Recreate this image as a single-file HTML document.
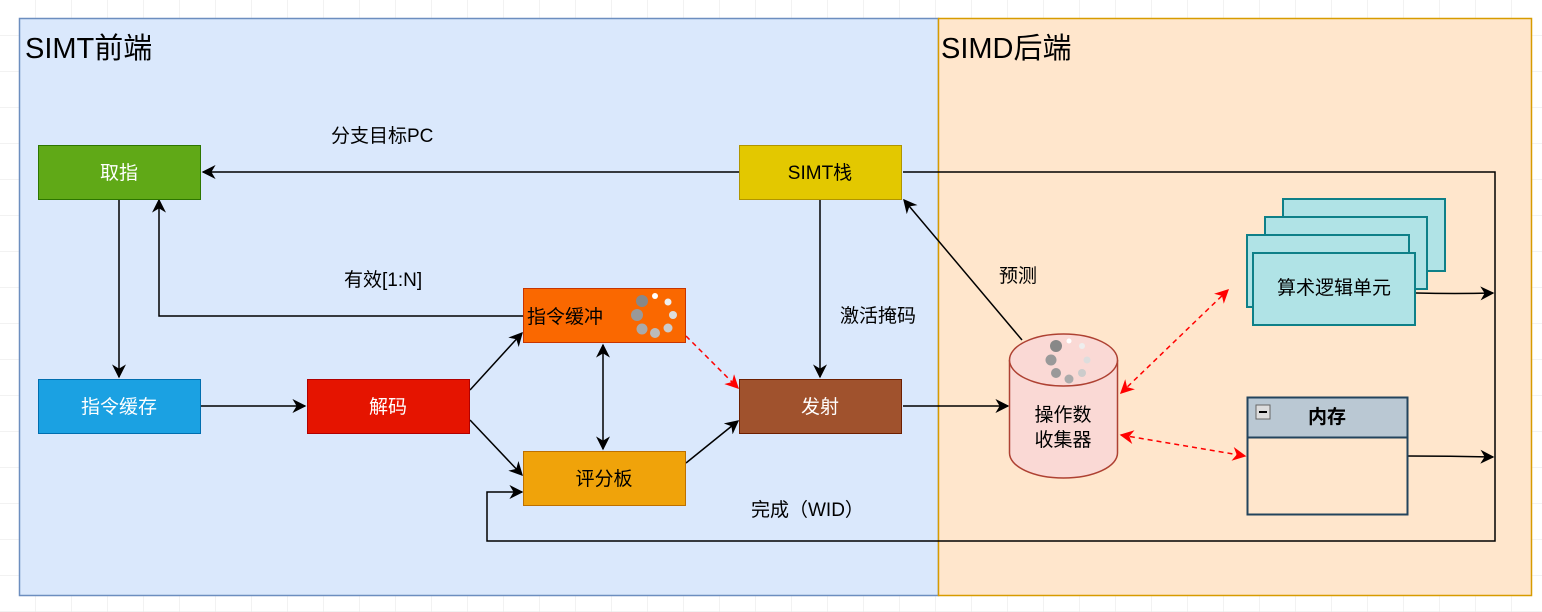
<!DOCTYPE html>
<html><head><meta charset="utf-8"><style>
html,body{margin:0;padding:0;background:#fff}
svg{display:block}
text{font-family:"Liberation Sans","Noto Sans CJK SC",sans-serif;}
</style></head><body>
<svg width="1542" height="612" viewBox="0 0 1542 612" xmlns="http://www.w3.org/2000/svg">
<defs>
<pattern id="g" width="36" height="36" patternUnits="userSpaceOnUse" x="0" y="0">
<path d="M36 0V36M0 36H36" stroke="#e6e6e6" stroke-width="1" fill="none"/>
</pattern>
<marker id="a" viewBox="0 0 10 10" refX="9" refY="5" markerWidth="14" markerHeight="14" orient="auto-start-reverse" markerUnits="userSpaceOnUse"><path d="M0 0L10 5L0 10L3 5z" fill="#000"/></marker>
<marker id="ar" viewBox="0 0 10 10" refX="9" refY="5" markerWidth="14" markerHeight="14" orient="auto-start-reverse" markerUnits="userSpaceOnUse"><path d="M0 0L10 5L0 10L3 5z" fill="#f00"/></marker>
</defs>
<rect width="1542" height="612" fill="url(#g)"/>
<rect x="19.5" y="18.5" width="919" height="577" fill="#dae8fc" stroke="#6c8ebf" stroke-width="1.5"/>
<rect x="938.5" y="18.5" width="593" height="577" fill="#ffe6cc" stroke="#d79b00" stroke-width="1.5"/>
<text x="25" y="58" font-size="29">SIMT前端</text>
<text x="941" y="58" font-size="29">SIMD后端</text>

<g stroke="#000" stroke-width="1.5" fill="none">
<path d="M739 172H203" marker-end="url(#a)"/>
<path d="M119 200V377" marker-end="url(#a)"/>
<path d="M523 316H159V200" marker-end="url(#a)"/>
<path d="M201 406H305" marker-end="url(#a)"/>
<path d="M470 390L522 333" marker-end="url(#a)"/>
<path d="M470 420L522 475" marker-end="url(#a)"/>
<path d="M603 345V449" marker-start="url(#a)" marker-end="url(#a)"/>
<path d="M686 463L738 421" marker-end="url(#a)"/>
<path d="M820 200V377" marker-end="url(#a)"/>
<path d="M903 406H1008" marker-end="url(#a)"/>
<path d="M1022 340L904 200" marker-end="url(#a)"/>
<path d="M903 172H1495V541H487V492H522" marker-end="url(#a)"/>
<path d="M1416 293Q1455 294 1493 293" marker-end="url(#a)"/>
<path d="M1408 456Q1450 456 1493 457" marker-end="url(#a)"/>
</g>
<g stroke="#f00" stroke-width="1.5" fill="none" stroke-dasharray="5,4">
<path d="M686 336L738 388" marker-end="url(#ar)"/>
<path d="M1121 393L1228 290" marker-start="url(#ar)" marker-end="url(#ar)"/>
<path d="M1121 435L1245 456" marker-start="url(#ar)" marker-end="url(#ar)"/>
</g>

<rect x="38.5" y="145.5" width="162" height="54" fill="#60a917" stroke="#2d7600"/>
<text x="119" y="179" font-size="19" fill="#fff" text-anchor="middle">取指</text>
<rect x="38.5" y="379.5" width="162" height="54" fill="#1ba1e2" stroke="#006eaf"/>
<text x="119" y="413" font-size="19" fill="#fff" text-anchor="middle">指令缓存</text>
<rect x="307.5" y="379.5" width="162" height="54" fill="#e51400" stroke="#b20000"/>
<text x="388" y="413" font-size="19" fill="#fff" text-anchor="middle">解码</text>
<rect x="523.5" y="288.5" width="162" height="54" fill="#fa6800" stroke="#c73500"/>
<text x="527" y="323" font-size="19" fill="#000">指令缓冲</text>
<g>
<circle cx="642" cy="301" r="6" fill="#888"/><circle cx="655" cy="296" r="3" fill="#fff"/><circle cx="668" cy="302" r="3.5" fill="#eee"/>
<circle cx="673" cy="315" r="4" fill="#ddd"/><circle cx="668" cy="328" r="4.5" fill="#ccc"/><circle cx="655" cy="333" r="5" fill="#bbb"/>
<circle cx="642" cy="329" r="5.5" fill="#aaa"/><circle cx="637" cy="315" r="6" fill="#999"/>
</g>
<rect x="523.5" y="451.5" width="162" height="54" fill="#f0a30a" stroke="#bd7000"/>
<text x="604" y="485" font-size="19" fill="#000" text-anchor="middle">评分板</text>
<rect x="739.5" y="145.5" width="162" height="54" fill="#e3c800" stroke="#b09500"/>
<text x="820" y="179" font-size="19" fill="#000" text-anchor="middle">SIMT栈</text>
<rect x="739.5" y="379.5" width="162" height="54" fill="#a0522d" stroke="#6d1f00"/>
<text x="820" y="413" font-size="19" fill="#fff" text-anchor="middle">发射</text>

<text x="331" y="142" font-size="19">分支目标PC</text>
<text x="344" y="286" font-size="19">有效[1:N]</text>
<text x="840" y="322" font-size="19">激活掩码</text>
<text x="999" y="282" font-size="19">预测</text>
<text x="751" y="516" font-size="19">完成（WID）</text>

<path d="M1009.5 360V453A54 25 0 0 0 1117.5 453V360" fill="#fad9d5" stroke="#ae4132" stroke-width="1.5"/>
<ellipse cx="1063.5" cy="360" rx="54" ry="26" fill="#fad9d5" stroke="#ae4132" stroke-width="1.5"/>
<circle cx="1056" cy="346" r="6" fill="#888"/><circle cx="1069" cy="341" r="2.5" fill="#fff"/><circle cx="1082" cy="346" r="3" fill="#eee"/>
<circle cx="1087" cy="360" r="3.5" fill="#ddd"/><circle cx="1082" cy="373" r="4" fill="#ccc"/><circle cx="1069" cy="379" r="4.5" fill="#aaa"/>
<circle cx="1056" cy="373" r="5" fill="#999"/><circle cx="1051" cy="360" r="5.5" fill="#999"/>
<text x="1063" y="421" font-size="19" text-anchor="middle">操作数</text>
<text x="1063" y="446" font-size="19" text-anchor="middle">收集器</text>

<g fill="#b0e3e6" stroke="#0e8088" stroke-width="2">
<rect x="1283" y="199" width="162" height="72"/>
<rect x="1265" y="217" width="162" height="72"/>
<rect x="1247" y="235" width="162" height="72"/>
<rect x="1253" y="253" width="162" height="72"/>
</g>
<text x="1334" y="294" font-size="19" text-anchor="middle">算术逻辑单元</text>

<rect x="1247.5" y="397.5" width="160" height="117" fill="none" stroke="#23445d" stroke-width="2"/>
<rect x="1247.5" y="397.5" width="160" height="40" fill="#bac8d3" stroke="#23445d" stroke-width="2"/>
<rect x="1256" y="405" width="14" height="14" fill="#ddd" stroke="#666"/>
<rect x="1259" y="411" width="8" height="2" fill="#000"/>
<text x="1327" y="423" font-size="19" font-weight="bold" text-anchor="middle">内存</text>
</svg>
</body></html>
